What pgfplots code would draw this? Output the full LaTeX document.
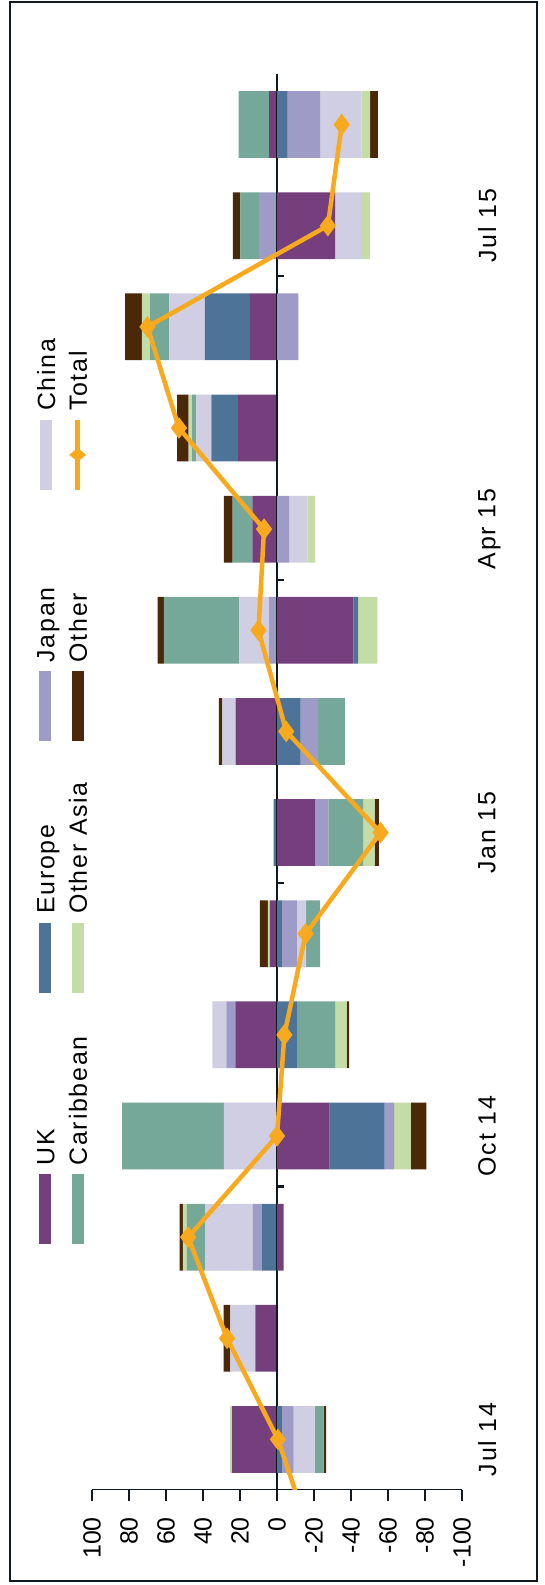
\documentclass[border=0pt]{standalone}
\usepackage{fontspec}
\setmainfont[LetterSpace=7]{Liberation Sans}
\newfontfamily\plainf{Liberation Sans}
\usepackage{graphicx}
\usepackage{pgfplots}
\usepackage{pgfplotstable}
\pgfplotsset{compat=1.18}

\definecolor{ukc}{HTML}{743F7C}
\definecolor{euc}{HTML}{4E7399}
\definecolor{jac}{HTML}{9E9BC6}
\definecolor{chc}{HTML}{CFCEE3}
\definecolor{cac}{HTML}{76A89A}
\definecolor{oac}{HTML}{C4DCA5}
\definecolor{otc}{HTML}{4A2808}
\definecolor{totc}{HTML}{F8A91E}
\definecolor{axc}{HTML}{101820}

% positive parts of each series (series order: UK, Europe, Japan, China, Caribbean, Other Asia, Other)
\pgfplotstableread{
idx UK Eu Ja Ch Ca OA Ot
0 24.3 0 0 0 0 1.0 0
1 11.7 0 0 13.5 0 0 3.6
2 0 8.1 4.9 25.8 9.9 2.2 1.8
3 0 0 0 28.7 55.0 0 0
4 22.5 0 4.9 7.5 0 0 0
5 3.8 0 0 0 0 1.1 4.3
6 0 1.8 0 0 0 0 0
7 22.4 0 0 7.1 0 0 1.9
8 0 0 4.3 16.0 40.8 0 3.4
9 13.3 0 0 0 10.7 0 4.7
10 21.0 14.5 0 8.1 2.3 1.9 6.2
11 14.6 24.4 0 19.3 10.3 4.5 9.0
12 0 0 9.8 0 10.0 0 4.1
13 4.2 0 0 0 16.5 0 0
}\pos

% negative parts
\pgfplotstableread{
idx UK Eu Ja Ch Ca OA Ot
0 0 -2.7 -6.3 -11.3 -4.9 0 -1.3
1 0 0 0 0 0 0 0
2 -3.6 0 0 0 0 0 0
3 -28.5 -29.7 -5.1 0 0 -9.0 -8.5
4 0 -10.8 0 0 -20.7 -6.2 -1.3
5 0 -2.7 -8.1 -4.9 -7.6 0 0
6 -20.8 0 -7.0 0 -18.8 -6.2 -2.3
7 0 -12.8 -9.4 0 -14.5 0 0
8 -41.3 -2.6 0 0 0 -10.3 0
9 0 0 -6.5 -10.0 0 -4.1 0
10 0 0 0 0 0 0 0
11 0 0 -11.6 0 0 0 0
12 -31.4 0 0 -14.1 0 -4.7 0
13 0 -5.8 -17.7 -22.2 0 -4.7 -4.1
}\neg

\pgfplotstableread{
idx t
-1 -19
0 -0.5
1 27
2 48
3 0
4 -4
5 -15.5
6 -56
7 -5
8 10
9 7
10 53
11 70
12 -27.5
13 -35
}\tot

\pgfplotsset{
  base/.style={
    scale only axis, width=370bp, height=1416bp,
    at={(92bp,95bp)}, anchor=south west,
    xmin=-100, xmax=100, x dir=reverse,
    ymin=-0.5, ymax=13.5,
  },
  bars/.style={base, xbar stacked, bar width=0.66,
    every axis plot/.append style={draw=none}},
}

% legend entry: coloured swatch followed by the name, whole thing rotated
\newcommand{\legsw}[2]{\rotatebox{90}{\makebox[250bp][l]{\textcolor{#1}{\rule[3bp]{70bp}{12bp}}\hspace{9bp}#2\vphantom{Jp}}}}
\newcommand{\legtot}[1]{\rotatebox{90}{\makebox[250bp][l]{\rlap{\textcolor{totc}{\rule[7bp]{70bp}{4.5bp}}}\makebox[70bp]{\raisebox{0.75bp}{\textcolor{totc}{\scalebox{0.8}[1]{\rotatebox{45}{\rule{12bp}{12bp}}}}}}\hspace{9bp}#1\vphantom{Jp}}}}

\begin{document}
\begin{tikzpicture}
\useasboundingbox (0,0) rectangle (545bp,1585bp);
\fill[white] (0,0) rectangle (545bp,1585bp);
\draw[line width=2.5bp, axc] (10bp,4bp) rectangle (537bp,1583bp);

% positive stack + axis decoration
\begin{axis}[bars,
  axis line style={draw=none},
  xtick={-100,-80,-60,-40,-20,0,20,40,60,80,100},
  xticklabels={-100,-80,-60,-40,-20,0,20,40,60,80,100},
  xtick pos=left,
  xtick align=outside, major tick length=11bp,
  xtick style={line width=2.5bp, axc},
  xticklabel style={rotate=90, anchor=east, inner xsep=16bp,
    font=\plainf\fontsize{25}{30}\selectfont},
  ytick={0,3,6,9,12},
  yticklabels={Jul 14,Oct 14,Jan 15,Apr 15,Jul 15},
  ytick style={draw=none},
  yticklabel pos=right,
  yticklabel style={rotate=90, anchor=north, inner ysep=16bp,
    font=\fontsize{25}{30}\selectfont},
]
\addplot[fill=ukc] table[x=UK, y=idx] {\pos};
\addplot[fill=euc] table[x=Eu, y=idx] {\pos};
\addplot[fill=jac] table[x=Ja, y=idx] {\pos};
\addplot[fill=chc] table[x=Ch, y=idx] {\pos};
\addplot[fill=cac] table[x=Ca, y=idx] {\pos};
\addplot[fill=oac] table[x=OA, y=idx] {\pos};
\addplot[fill=otc] table[x=Ot, y=idx] {\pos};
\draw[line width=2.5bp, axc] (axis cs:100,-0.5) -- (axis cs:-100,-0.5);
\end{axis}

% negative stack + zero line
\begin{axis}[bars, hide axis]
\addplot[fill=ukc] table[x=UK, y=idx] {\neg};
\addplot[fill=euc] table[x=Eu, y=idx] {\neg};
\addplot[fill=jac] table[x=Ja, y=idx] {\neg};
\addplot[fill=chc] table[x=Ch, y=idx] {\neg};
\addplot[fill=cac] table[x=Ca, y=idx] {\neg};
\addplot[fill=oac] table[x=OA, y=idx] {\neg};
\addplot[fill=otc] table[x=Ot, y=idx] {\neg};
\draw[line width=2.2bp, axc] (axis cs:0,-0.5) -- (axis cs:0,13.5);
\draw[line width=2.2bp, axc] (axis cs:0,2.5) -- (axis cs:-3.8,2.5);
\draw[line width=2.2bp, axc] (axis cs:0,5.5) -- (axis cs:-3.8,5.5);
\draw[line width=2.2bp, axc] (axis cs:0,8.5) -- (axis cs:-3.8,8.5);
\draw[line width=2.2bp, axc] (axis cs:0,11.5) -- (axis cs:-3.8,11.5);
\end{axis}

% total line + legend
\begin{axis}[base, hide axis, clip mode=individual,
  legend columns=2,
  legend style={at={(-0.1568,0.1709)}, anchor=south west,
    draw=none, fill=none,
    font=\fontsize{25}{30}\selectfont,
    nodes={inner sep=0bp},
    row sep=0bp,
    /tikz/every odd column/.append style={column sep=0bp},
    /tikz/every even column/.append style={column sep=8.5bp}},
  legend cell align=left,
]
\addplot[totc, line width=4.5bp, mark=diamond*, mark size=10bp,
  mark options={fill=totc, draw=totc, line width=1bp}, forget plot]
  table[x=t, y=idx] {\tot};
\addlegendimage{empty legend}\addlegendentry{\legsw{chc}{China}}
\addlegendimage{empty legend}\addlegendentry{\legtot{Total}}
\addlegendimage{empty legend}\addlegendentry{\legsw{jac}{Japan}}
\addlegendimage{empty legend}\addlegendentry{\legsw{otc}{Other}}
\addlegendimage{empty legend}\addlegendentry{\legsw{euc}{Europe}}
\addlegendimage{empty legend}\addlegendentry{\legsw{oac}{Other Asia}}
\addlegendimage{empty legend}\addlegendentry{\legsw{ukc}{UK}}
\addlegendimage{empty legend}\addlegendentry{\legsw{cac}{Caribbean}}
\end{axis}
\end{tikzpicture}
\end{document}
